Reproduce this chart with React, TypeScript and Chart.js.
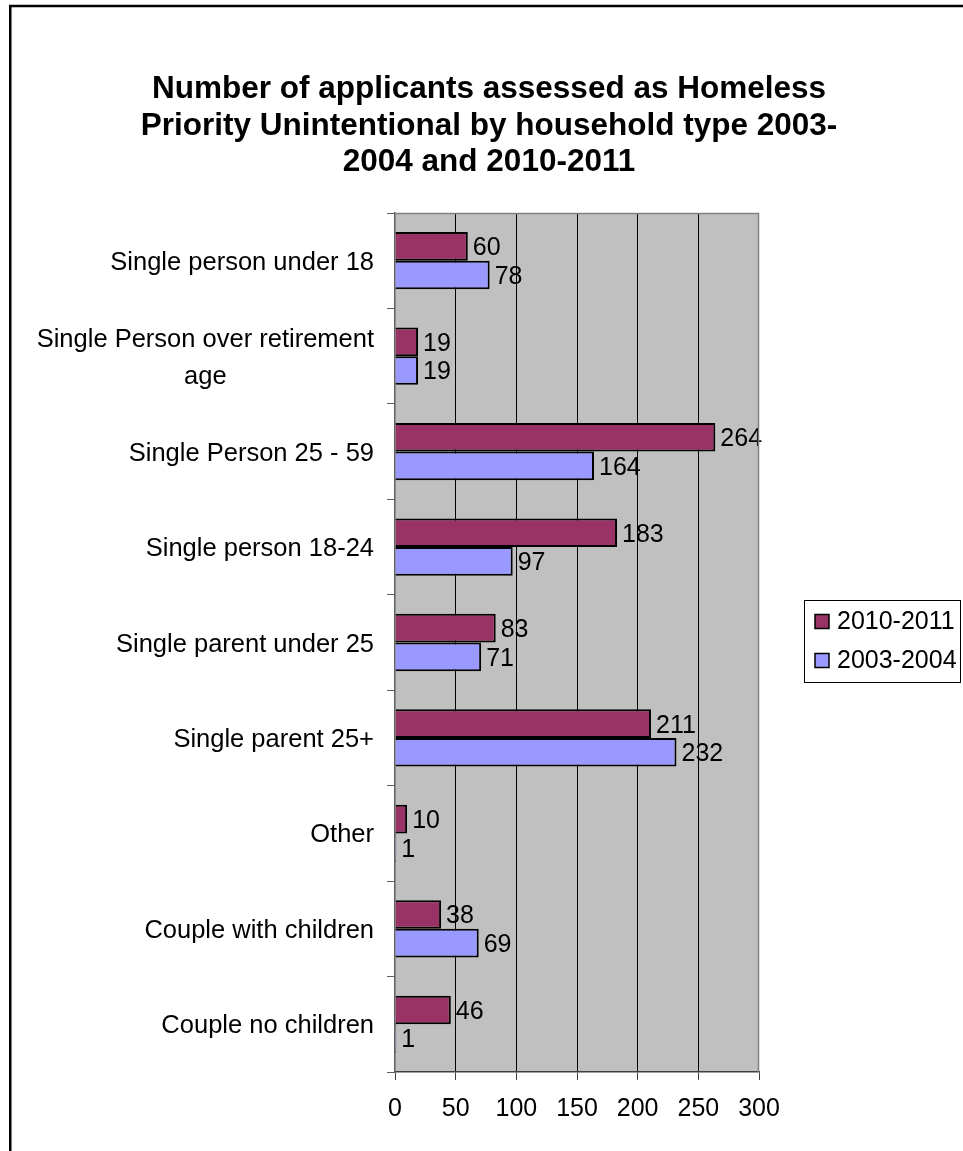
import React, { useEffect, useRef } from "react";
import { Chart, registerables } from "chart.js";

Chart.register(...registerables);

// ---- data ----
const categories: string[][] = [
  ["Single person under 18"],
  ["Single Person over retirement", "age"],
  ["Single Person 25 - 59"],
  ["Single person 18-24"],
  ["Single parent under 25"],
  ["Single parent 25+"],
  ["Other"],
  ["Couple with children"],
  ["Couple no children"],
];
const seriesNames = ["2010-2011", "2003-2004"];
const values2010 = [60, 19, 264, 183, 83, 211, 10, 38, 46];
const values2003 = [78, 19, 164, 97, 71, 232, 1, 69, 1];
const xMin = 0;
const xMax = 300;
const xStep = 50;
const titleLines = [
  "Number of applicants assessed as Homeless",
  "Priority Unintentional by household type 2003-",
  "2004 and 2010-2011",
];
const seriesColors = ["#993366", "#9999FF"];

const FONT = '"Liberation Sans", Arial, Helvetica, sans-serif';
const W = 963;
const H = 1151;

const customPlugin = {
  id: "customDraw",
  beforeDraw(chart: any) {
    const { ctx, chartArea: a } = chart;
    ctx.save();
    ctx.fillStyle = "#ffffff";
    ctx.fillRect(0, 0, chart.width, chart.height);
    // plot background
    ctx.fillStyle = "#C0C0C0";
    ctx.fillRect(a.left, a.top, a.right - a.left, a.bottom - a.top);
    // outer frame
    ctx.strokeStyle = "#000";
    ctx.lineWidth = 2.5;
    ctx.beginPath();
    ctx.moveTo(10.25, H + 10);
    ctx.lineTo(10.25, 6);
    ctx.lineTo(W + 10, 6);
    ctx.stroke();
    // title
    ctx.fillStyle = "#000";
    ctx.font = `bold 31.5px ${FONT}`;
    ctx.textAlign = "center";
    ctx.textBaseline = "middle";
    const ty = [89, 126, 162];
    titleLines.forEach((t, i) => ctx.fillText(t, 489, ty[i]));
    ctx.restore();
  },
  afterDatasetsDraw(chart: any) {
    const { ctx } = chart;
    ctx.save();
    ctx.fillStyle = "#000";
    ctx.font = `25px ${FONT}`;
    ctx.textAlign = "left";
    ctx.textBaseline = "middle";
    chart.data.datasets.forEach((ds: any, di: number) => {
      const meta = chart.getDatasetMeta(di);
      meta.data.forEach((el: any, i: number) => {
        ctx.fillText(String(ds.data[i]), el.x + 5, el.y + 2);
      });
    });
    ctx.restore();
  },
  afterDraw(chart: any) {
    const { ctx, chartArea: a } = chart;
    ctx.save();
    // plot border top and right
    ctx.strokeStyle = "#808080";
    ctx.lineWidth = 1.5;
    ctx.beginPath();
    ctx.moveTo(a.left, a.top + 0.5);
    ctx.lineTo(a.right - 0.5, a.top + 0.5);
    ctx.lineTo(a.right - 0.5, a.bottom);
    ctx.stroke();

    // category labels
    const yScale = chart.scales.y;
    ctx.fillStyle = "#000";
    ctx.font = `25.5px ${FONT}`;
    ctx.textBaseline = "middle";
    const rightX = 374;
    const lh = 37;
    categories.forEach((lines, i) => {
      const cy = yScale.getPixelForValue(i) + 2;
      const widths = lines.map((l) => ctx.measureText(l).width);
      const maxW = Math.max(...widths);
      const centerX = rightX - maxW / 2;
      lines.forEach((l, li) => {
        const y = cy + (li - (lines.length - 1) / 2) * lh;
        if (lines.length > 1) {
          ctx.textAlign = "center";
          ctx.fillText(l, centerX, y);
        } else {
          ctx.textAlign = "right";
          ctx.fillText(l, rightX, y);
        }
      });
    });

    // legend
    const lx = 804.5;
    const ly = 600.5;
    const lw = 156;
    const lhh = 82;
    ctx.strokeStyle = "#000";
    ctx.lineWidth = 1;
    ctx.strokeRect(lx, ly, lw, lhh);
    const entryY = [621.5, 660.5];
    ctx.font = `25px ${FONT}`;
    ctx.textAlign = "left";
    seriesNames.forEach((name, i) => {
      const y = entryY[i];
      ctx.fillStyle = seriesColors[i];
      ctx.fillRect(815, y - 7, 14, 14);
      ctx.strokeStyle = "#000";
      ctx.lineWidth = 1.5;
      ctx.strokeRect(815, y - 7, 14, 14);
      ctx.fillStyle = "#000";
      ctx.fillText(name, 837, y + 1);
    });
    ctx.restore();
  },
};

export default function App() {
  const ref = useRef<HTMLCanvasElement | null>(null);
  useEffect(() => {
    if (!ref.current) return;
    const chart = new Chart(ref.current, {
      type: "bar",
      data: {
        labels: categories,
        datasets: [
          {
            label: seriesNames[0],
            data: values2010,
            backgroundColor: seriesColors[0],
            borderColor: "#000",
            borderWidth: 2,
            categoryPercentage: 0.6,
            barPercentage: 1.0,
          },
          {
            label: seriesNames[1],
            data: values2003,
            backgroundColor: seriesColors[1],
            borderColor: "#000",
            borderWidth: 2,
            categoryPercentage: 0.6,
            barPercentage: 1.0,
          },
        ],
      },
      options: {
        indexAxis: "y",
        responsive: false,
        animation: false,
        devicePixelRatio: 1,
        layout: { padding: { top: 213, right: 204, left: 0, bottom: 0 } },
        plugins: {
          legend: { display: false },
          title: { display: false },
          tooltip: { enabled: false },
        },
        scales: {
          x: {
            type: "linear",
            min: xMin,
            max: xMax,
            afterFit: (s: any) => {
              s.height = H - 1072;
            },
            ticks: {
              stepSize: xStep,
              color: "#000",
              font: { family: FONT, size: 25 },
              padding: 14,
            },
            grid: {
              color: (c: any) =>
                c.index === 0
                  ? "rgba(0,0,0,0)"
                  : c.tick && c.tick.value === xMax
                  ? "rgba(0,0,0,0)"
                  : "#000",
              tickColor: "#404040",
              tickLength: 8,
              lineWidth: 1,
            },
            border: { display: true, color: "#404040", width: 1.5 },
          },
          y: {
            type: "category",
            afterFit: (s: any) => {
              s.width = 395;
            },
            ticks: { display: false },
            grid: {
              offset: true,
              drawOnChartArea: false,
              drawTicks: true,
              tickLength: 8,
              color: "#606060",
            },
            border: { display: true, color: "#606060", width: 1.5 },
          },
        },
      },
      plugins: [customPlugin],
    });
    return () => chart.destroy();
  }, []);
  return (
    <div style={{ position: "absolute", left: 0, top: 0, width: W, height: H }}>
      <canvas ref={ref} width={W} height={H} style={{ width: W, height: H, display: "block" }} />
    </div>
  );
}
